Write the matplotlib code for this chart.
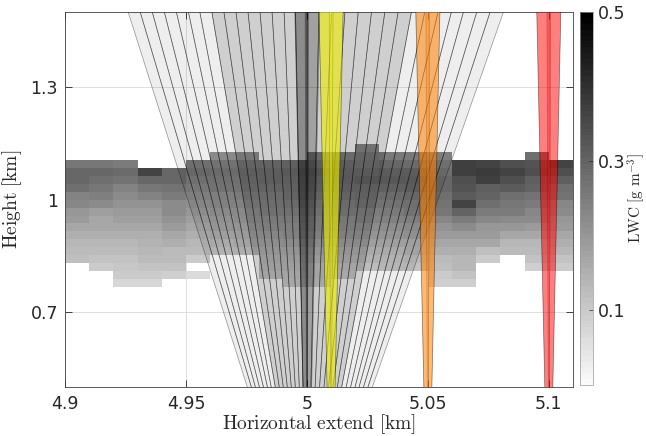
import numpy as np
import matplotlib
matplotlib.use("Agg")
import matplotlib.pyplot as plt
from matplotlib.patches import Polygon
from matplotlib.colors import ListedColormap

plt.rcParams['mathtext.fontset'] = 'cm'
plt.rcParams['font.family'] = 'DejaVu Sans'

N = np.nan

# cloud grid (km): 10 m columns, ~21 m rows
x_edges = np.round(4.90 + 0.01 * np.arange(22), 3)
z_edges = 0.7665 + 0.0212 * np.arange(19)

# LWC [g m-3], rows listed top -> bottom, columns 4.90 .. 5.11 km
lwc_rows = [
    [N, N, N, N, N, N, N, N, N, N, N, N, 0.22, N, N, N, N, N, N, N, N],
    [N, N, N, N, N, N, 0.21, 0.21, N, N, 0.24, 0.24, 0.25, 0.24, 0.24, 0.23, N, N, N, 0.28, N],
    [0.26, 0.26, 0.255, N, N, 0.26, 0.25, 0.25, 0.25, 0.26, 0.27, 0.27, 0.26, 0.28, 0.27, 0.26, 0.37, 0.36, 0.34, 0.33, 0.36],
    [0.29, 0.29, 0.285, 0.36, 0.29, 0.275, 0.27, 0.27, 0.27, 0.28, 0.29, 0.28, 0.28, 0.30, 0.30, 0.28, 0.37, 0.38, 0.36, 0.34, 0.34],
    [0.29, 0.275, 0.27, 0.29, 0.29, 0.26, 0.26, 0.26, 0.27, 0.27, 0.28, 0.28, 0.29, 0.31, 0.31, 0.29, 0.34, 0.37, 0.34, 0.31, 0.31],
    [0.28, 0.265, 0.235, 0.265, 0.27, 0.245, 0.25, 0.25, 0.25, 0.26, 0.27, 0.27, 0.27, 0.29, 0.30, 0.29, 0.33, 0.31, 0.32, 0.30, 0.28],
    [0.235, 0.245, 0.225, 0.235, 0.25, 0.23, 0.23, 0.24, 0.24, 0.25, 0.25, 0.25, 0.26, 0.27, 0.28, 0.28, 0.32, 0.30, 0.28, 0.27, 0.27],
    [0.23, 0.22, 0.21, 0.21, 0.225, 0.215, 0.22, 0.22, 0.23, 0.24, 0.24, 0.24, 0.25, 0.25, 0.26, 0.27, 0.36, 0.28, 0.26, 0.25, 0.23],
    [0.20, 0.18, 0.195, 0.195, 0.225, 0.20, 0.21, 0.21, 0.22, 0.22, 0.22, 0.23, 0.23, 0.24, 0.25, 0.26, 0.30, 0.25, 0.25, 0.23, 0.22],
    [0.19, 0.17, 0.18, 0.185, 0.21, 0.185, 0.19, 0.20, 0.20, 0.21, 0.21, 0.21, 0.22, 0.22, 0.23, 0.23, 0.25, 0.23, 0.22, 0.22, 0.20],
    [0.17, 0.165, 0.165, 0.17, 0.19, 0.17, 0.18, 0.18, 0.19, 0.19, 0.20, 0.20, 0.20, 0.20, 0.21, 0.21, 0.22, 0.20, 0.20, 0.19, 0.19],
    [0.155, 0.15, 0.155, 0.155, 0.17, 0.155, 0.16, 0.17, 0.17, 0.18, 0.18, 0.18, 0.18, 0.18, 0.19, 0.19, 0.19, 0.19, 0.17, 0.17, 0.17],
    [0.14, 0.135, 0.14, 0.145, 0.155, 0.14, 0.14, 0.15, 0.15, 0.16, 0.16, 0.16, 0.16, 0.16, 0.16, 0.17, 0.17, 0.17, 0.14, 0.14, 0.155],
    [0.13, 0.125, 0.13, 0.14, 0.125, 0.125, 0.12, 0.13, 0.14, 0.14, 0.14, 0.14, 0.14, 0.14, 0.15, 0.15, 0.155, 0.12, 0.125, 0.125, 0.14],
    [0.124, 0.115, 0.115, 0.13, 0.125, 0.10, N, N, 0.12, 0.12, 0.12, 0.12, 0.12, 0.12, 0.13, 0.13, 0.14, 0.10, N, 0.11, 0.115],
    [N, 0.10, 0.105, 0.115, 0.11, N, N, N, 0.11, 0.11, 0.10, 0.10, 0.10, 0.11, 0.11, 0.12, 0.14, N, N, 0.09, 0.10],
    [N, N, 0.10, 0.10, 0.09, 0.07, N, N, 0.10, 0.10, 0.10, 0.09, N, N, N, 0.10, 0.11, N, N, N, N],
    [N, N, 0.075, 0.075, N, N, N, N, N, 0.09, 0.09, N, N, N, N, 0.09, 0.09, N, N, N, N],
]

# scanning fan (degrees off zenith), all from the instrument at 5.0 km, ground
fan_origin = 5.0
fan_edges = [-2.82, -2.63, -2.44, -2.25, -2.06, -1.87, -1.69, -1.50, -1.31, -1.12,
             -0.93, -0.74, -0.55, -0.36, -0.18, 0.0, 0.19, 0.39, 0.60, 0.81, 1.02,
             1.23, 1.44, 1.65, 1.86, 2.07, 2.28, 2.47, 2.68, 2.89, 3.10]
fan_dense = [(-1.50, 0.0), (0.19, 1.65)]
beam_half = 0.19

# vertically pointing beams
vert_pos = [5.0, 5.01, 5.05, 5.1]
vert_colors = [(0, 0, 0), (0.93, 0.93, 0.0), (1.0, 0.5, 0.0), (1.0, 0.0, 0.0)]
vert_alpha = [0.32, 0.62, 0.55, 0.5]


def wedge(x0, a, b, top=1.7):
    ta, tb = np.tan(np.radians(a)), np.tan(np.radians(b))
    return [(x0, 0.0), (x0 + top * ta, top), (x0 + top * tb, top)]


fig = plt.figure(figsize=(6.46, 4.36), dpi=100)
ax = fig.add_axes([0.1006, 0.1124, 0.7864, 0.86])

cmap = ListedColormap(plt.cm.gray_r(np.linspace(0.02, 1, 64)))
lwc = np.ma.masked_invalid(np.array(lwc_rows)[::-1])
mesh = ax.pcolormesh(x_edges, z_edges, lwc, cmap=cmap, vmin=0, vmax=0.5, zorder=1)

for a, b in zip(fan_edges[:-1], fan_edges[1:]):
    ax.add_patch(Polygon(wedge(fan_origin, a, b), closed=True,
                         facecolor=(0, 0, 0, 0.067), edgecolor=(0, 0, 0, 0.42),
                         lw=0.5, zorder=2))
for a, b in fan_dense:
    ax.add_patch(Polygon(wedge(fan_origin, a, b), closed=True,
                         facecolor=(0, 0, 0, 0.13), edgecolor='none', zorder=2))

for x0, c, al in zip(vert_pos, vert_colors, vert_alpha):
    ax.add_patch(Polygon(wedge(x0, -beam_half, beam_half), closed=True,
                         facecolor=(*c, al), edgecolor=(0, 0, 0, 0.5),
                         lw=0.5, zorder=3))
    ax.add_patch(Polygon(wedge(x0, -0.03, 0.03), closed=True,
                         facecolor=(*c, 0.3), edgecolor=(0, 0, 0, 0.25),
                         lw=0.4, zorder=3))

ax.set_xlim(4.9, 5.11)
ax.set_ylim(0.5, 1.5)
ax.set_xticks([4.9, 4.95, 5.0, 5.05, 5.1])
ax.set_xticklabels(['4.9', '4.95', '5', '5.05', '5.1'])
ax.set_yticks([0.7, 1.0, 1.3])
ax.set_yticklabels(['0.7', '1', '1.3'])
ax.set_axisbelow(True)
ax.grid(True, color='0.86', lw=0.6)
ax.tick_params(direction='in', top=True, right=True, length=5, width=0.6,
               labelsize=12.5, colors='0.15')
ax.tick_params(axis='y', pad=5)
ax.tick_params(axis='x', pad=6)
for s in ax.spines.values():
    s.set_color('0.25')
    s.set_linewidth(0.6)

ax.set_xlabel(r'$\mathrm{Horizontal\ extend\ [km]}$', fontsize=14, color='0.15')
ax.set_ylabel(r'$\mathrm{Height\ [km]}$', fontsize=14, color='0.15')
ax.xaxis.set_label_coords(0.5, -0.066)
ax.yaxis.set_label_coords(-0.08, 0.5)

cax = fig.add_axes([0.8978, 0.117, 0.0201, 0.855])
cb = fig.colorbar(mesh, cax=cax, ticks=[0.1, 0.3, 0.5])
cb.ax.set_yticklabels(['0.1', '0.3', '0.5'])
cb.ax.tick_params(direction='in', length=3, width=0.5, labelsize=12.5, colors='0.15')
cb.outline.set_edgecolor('0.6')
cb.outline.set_linewidth(0.5)
cb.set_label(r'$\mathrm{LWC\ [g\ m^{-3}]}$', fontsize=11, color='0.15', labelpad=0)

fig.savefig('out.png', dpi=100)
